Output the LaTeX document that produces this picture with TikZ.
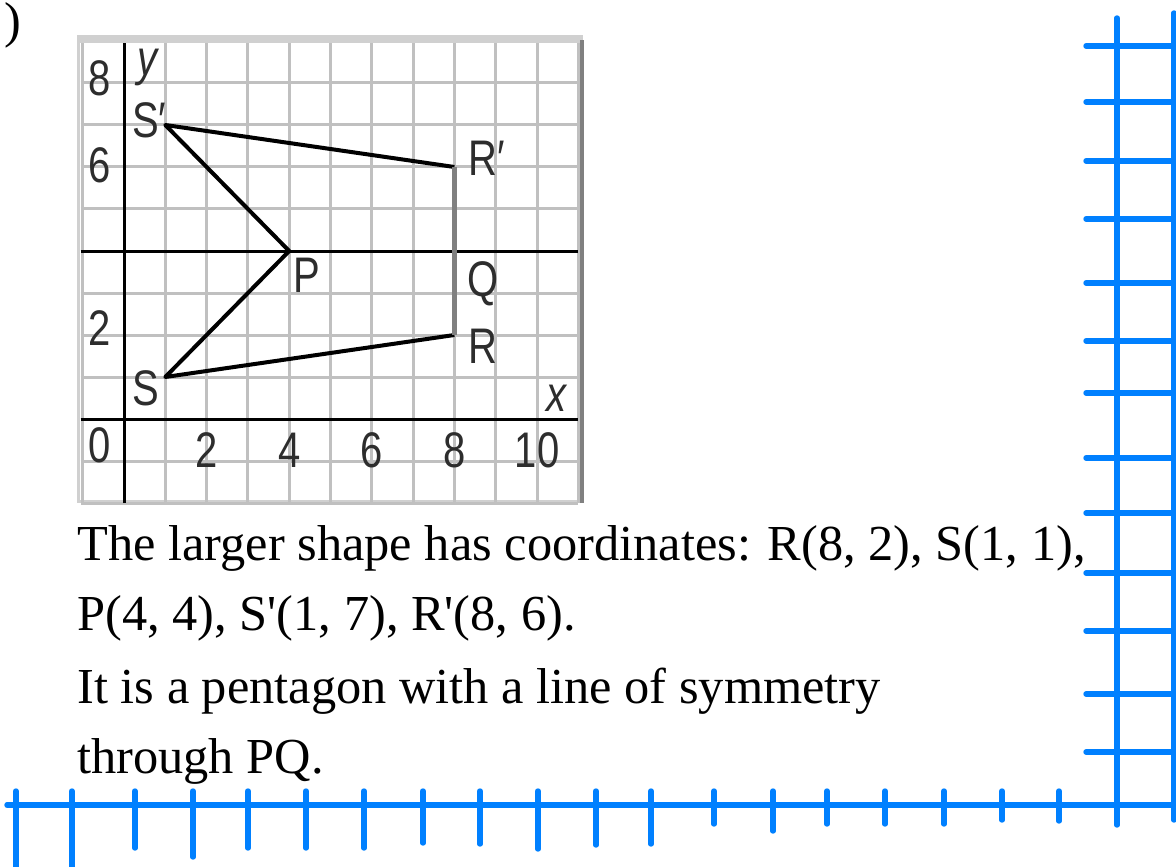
\documentclass[tikz,border=0pt]{standalone}
\usepackage{fontspec}
\setmainfont{Liberation Serif}
\newfontfamily\gridfont[FakeStretch=0.8]{Liberation Sans}
\definecolor{penblue}{RGB}{0,128,255}
\definecolor{gridgray}{RGB}{192,192,192}
\definecolor{inkgray}{RGB}{45,45,45}
\tikzset{
  gridline/.style={gridgray, line width=1.5pt},
  axisline/.style={black, line width=1.5pt},
  shapeline/.style={black, line width=2pt, line join=round},
  gridlabel/.style={inkgray, inner sep=0pt, font=\gridfont\fontsize{25}{25}\selectfont},
  answer/.style={anchor=base west, inner sep=0pt, font=\fontsize{25.2}{25.2}\selectfont},
  pen/.style={penblue, line width=2.7pt, line cap=round},
}

\begin{document}
\begin{tikzpicture}[x=0.5pt, y=-0.5pt]
		\useasboundingbox (0, 0) rectangle (1176, 866);

		% bracket left over from the line above
		\node (bracket) [answer, anchor=base east] at (22, 38) {)};

		% frame of the printed graph
		\fill [gridgray!75] (77, 35) rectangle (583, 503);
		\fill [white] (80, 43) rectangle (580, 500);
		\fill [gray] (580, 40) rectangle (584, 503);

		\begin{scope}[shift={(124, 419)}, x=20.65pt, y=21pt]
			\foreach \k in {-1, ..., 11}
				\draw [gridline] (\k, -2) -- (\k, 8.95);
			\foreach \k in {-2, ..., 8}
				\draw [gridline] (-1.05, \k) -- (11, \k);
			\draw [axisline] (0, -2) -- (0, 8.95);
			\draw [axisline] (-1.05, 0) -- (11, 0);
			\draw [axisline] (-1.05, 4) -- (11, 4);

			\node (ylabel) [gridlabel, font=\gridfont\itshape\fontsize{25}{25}\selectfont] at (0.56, 8.37) {y};
			\node (xlabel) [gridlabel, font=\gridfont\itshape\fontsize{25}{25}\selectfont] at (10.48, 0.5) {x};
			\node (y8) [gridlabel] at (-0.58, 8.12) {8};
			\node (y6) [gridlabel] at (-0.58, 6.05) {6};
			\node (y2) [gridlabel] at (-0.58, 2.17) {2};
			\node (y0) [gridlabel] at (-0.58, -0.62) {0};
			\foreach \k in {2, 4, 6, 8, 10}
				\node (x\k) [gridlabel] at (\k, -0.74) {\k};

			% the pentagon
			\coordinate (S) at (1, 1);
			\coordinate (P) at (4, 4);
			\coordinate (Sp) at (1, 7);
			\coordinate (Rp) at (8, 6);
			\coordinate (R) at (8, 2);
			\draw [shapeline] (R) -- (S) -- (P) -- (Sp) -- (Rp);
			\draw [gray, line width=2.5pt] (Rp) -- (R);

			\node (Slabel) [gridlabel, anchor=west] at (0.19, 0.74) {S};
			\node (Splabel) [gridlabel, anchor=west] at (0.19, 7.12) {S′};
			\node (Plabel) [gridlabel, anchor=west] at (4.09, 3.43) {P};
			\node (Qlabel) [gridlabel, anchor=west] at (8.3, 3.21) {Q};
			\node (Rlabel) [gridlabel, anchor=west] at (8.33, 1.74) {R};
			\node (Rplabel) [gridlabel, anchor=west] at (8.33, 6.21) {R′};
		\end{scope}

		% written answer
		\node (line1) [answer] at (77, 560) {The larger shape has coordinates: R(8, 2), S(1, 1),};
		\node (line2) [answer] at (77, 630) {P(4, 4), S\textquotesingle(1, 7), R\textquotesingle(8, 6).};
		\node (line3) [answer] at (77, 703) {It is a pentagon with a line of symmetry};
		\node (line4) [answer] at (77, 773) {through PQ.};

		% blue axes drawn by hand
		\draw [pen] (7, 805) -- (1172, 805);
		\draw [pen] (1117, 18) -- (1117, 825);
		\draw [pen] (1174, 13) -- (1174, 820);
		\foreach \x/\b in {16/870, 72/870, 135/848, 193/857, 248/848, 306/848, 364/848, 423/843, 480/844, 538/849, 596/845, 651/844, 714/824, 773/831, 827/824, 885/824, 944/824, 1002/820, 1059/821}
			\draw [pen] (\x, 791) -- (\x, \b);
		\foreach \y in {46, 102, 161, 219, 283, 341, 393, 458, 513, 573, 631, 694, 752}
			\draw [pen] (1086, \y) -- (1174, \y);
	\end{tikzpicture}
\end{document}
